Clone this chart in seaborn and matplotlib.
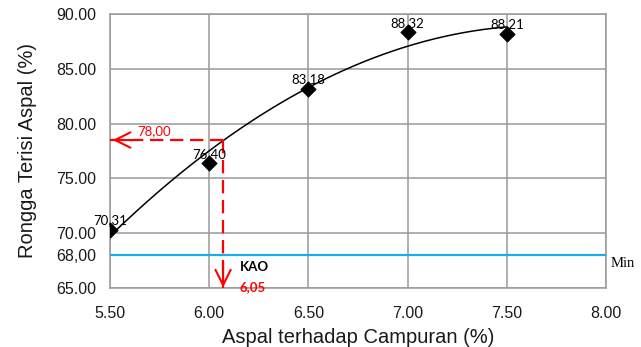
import seaborn as sns
import matplotlib.pyplot as plt
import pandas as pd
import numpy as np

# data
kadar_aspal = [5.5, 6.0, 6.5, 7.0, 7.5]
vfa = [70.31, 76.40, 83.18, 88.32, 88.21]
vfa_labels = ['70,31', '76,40', '83,18', '88,32', '88,21']
batas_min = 68.0
kao_x = 6.07      # where the red guide is drawn
kao_y = 78.5
kao_text = '6,05'
target_text = '78,00'
y_ticks = [65, 70, 75, 80, 85, 90]
x_ticks = [5.5, 6.0, 6.5, 7.0, 7.5, 8.0]

df = pd.DataFrame({'kadar': kadar_aspal, 'vfa': vfa})

# trendline (2nd order polynomial, like the excel chart)
coef = np.polyfit(df['kadar'], df['vfa'], 2)
xs = np.linspace(5.5, 7.5, 200)
trend = pd.DataFrame({'kadar': xs, 'vfa': np.polyval(coef, xs)})

sns.set_style('white')
plt.rcParams['font.family'] = ['Liberation Sans', 'DejaVu Sans']
lbl_font = ['Lato', 'DejaVu Sans']

fig = plt.figure(figsize=(6.41, 3.47), dpi=100)
ax = fig.add_axes([0.1716, 0.170, 0.7738, 0.7897])

sns.lineplot(data=trend, x='kadar', y='vfa', color='black', linewidth=1.1, ax=ax)
sns.scatterplot(data=df, x='kadar', y='vfa', marker='D', s=60, color='black',
                edgecolor='black', zorder=5, ax=ax)

for x, y, lab in zip(kadar_aspal, vfa, vfa_labels):
    ax.text(x, y + 0.3, lab, ha='center', va='bottom', fontsize=9.5,
            family=lbl_font, color='black', zorder=6)

ax.axhline(batas_min, color='#1aaee8', linewidth=1.6, zorder=3)

# red guide lines
red = '#ff0000'
arrow = dict(arrowstyle='->,head_length=1.1,head_width=0.55', color=red, lw=1.5)
ax.plot([5.5, kao_x], [kao_y, kao_y], color=red, lw=1.6, ls=(0, (6, 3)), zorder=4)
ax.plot([kao_x, kao_x], [kao_y, 65], color=red, lw=1.6, ls=(0, (6, 3)), zorder=4,
        clip_on=False)
ax.annotate('', xy=(5.5, kao_y), xytext=(5.62, kao_y), arrowprops=arrow)
ax.annotate('', xy=(kao_x, 64.8), xytext=(kao_x, 67.5), arrowprops=arrow,
            annotation_clip=False)
ax.text(5.635, kao_y + 0.25, target_text, color=red, fontsize=9.5,
        family=lbl_font, va='bottom')
ax.text(6.155, 66.9, 'KAO', color='black', fontsize=9.5, fontweight='bold',
        family=lbl_font, va='center')
ax.text(6.155, 65.1, kao_text, color=red, fontsize=9.5, fontweight='bold',
        family=lbl_font, va='center')
ax.text(8.025, 67.2, 'Min', fontsize=10.5, family=['Liberation Serif', 'DejaVu Serif'],
        color='black', va='center', clip_on=False)

ax.set_xlim(5.5, 8.0)
ax.set_ylim(65, 90)
ax.set_xticks(x_ticks)
ax.set_xticklabels([f'{v:.2f}' for v in x_ticks])
ax.set_yticks(y_ticks + [batas_min])
ax.set_yticklabels([f'{v:.2f}' for v in y_ticks] + ['68,00'])
ax.tick_params(axis='both', labelsize=11.5, length=5, color='#888888', direction='out',
               labelcolor='#1a1a1a')
ax.tick_params(axis='x', pad=8)
ax.tick_params(axis='y', pad=5)
ax.grid(True, color='#999999', linewidth=1.1)
for t, gl in zip(ax.get_yticks(), ax.get_ygridlines()):
    if t == batas_min:
        gl.set_visible(False)
for s in ax.spines.values():
    s.set_color('#999999')
    s.set_linewidth(1.1)

ax.set_xlabel('Aspal terhadap Campuran (%)', fontsize=14.5, labelpad=5, color='#1a1a1a')
ax.set_ylabel('Rongga Terisi Aspal (%)', fontsize=14.5, labelpad=14, color='#1a1a1a')

fig.savefig('out.png', dpi=100)
